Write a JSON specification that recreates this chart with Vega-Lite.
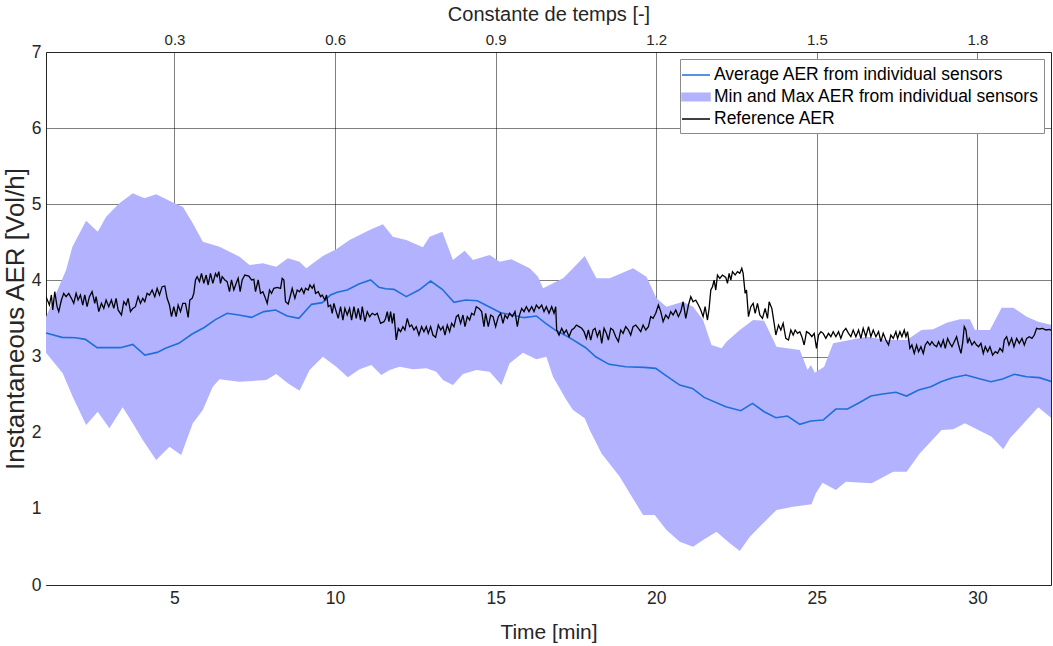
{
"$schema": "https://vega.github.io/schema/vega-lite/v6.json",
"width": 1005, "height": 533,
"autosize": {"type": "none"},
"padding": {"left": 46, "top": 52, "right": 2, "bottom": 61},
"background": "white",
"config": {
  "view": {"stroke": null},
  "font": "Liberation Sans",
  "axis": {"labelFont": "Liberation Sans", "labelFontSize": 17.5, "labelColor": "#262626", "titleFont": "Liberation Sans", "titleFontSize": 21, "titleFontWeight": "normal", "titleColor": "#262626", "domainColor": "#262626", "domainWidth": 1, "ticks": false, "gridColor": "#000000", "gridOpacity": 0.5, "gridWidth": 1, "zindex": 1},
  "legend": {"labelFont": "Liberation Sans", "labelFontSize": 17.5, "labelColor": "#000000", "labelLimit": 500}
},
"datasets": {
"upper": [{"t":1.0,"v":3.52},{"t":1.626,"v":4.137},{"t":1.822,"v":4.443},{"t":2.249,"v":4.785},{"t":2.611,"v":4.64},{"t":2.872,"v":4.837},{"t":3.287,"v":5.013},{"t":3.701,"v":5.144},{"t":4.065,"v":5.079},{"t":4.43,"v":5.131},{"t":5.0,"v":5.013},{"t":5.259,"v":4.968},{"t":5.57,"v":4.75},{"t":5.882,"v":4.509},{"t":6.402,"v":4.443},{"t":7.025,"v":4.312},{"t":7.336,"v":4.203},{"t":7.751,"v":4.225},{"t":8.168,"v":4.18},{"t":8.53,"v":4.291},{"t":8.894,"v":4.246},{"t":9.103,"v":4.159},{"t":9.62,"v":4.321},{"t":10.037,"v":4.409},{"t":10.452,"v":4.531},{"t":11.075,"v":4.662},{"t":11.489,"v":4.737},{"t":11.801,"v":4.574},{"t":12.218,"v":4.531},{"t":12.735,"v":4.435},{"t":12.944,"v":4.574},{"t":13.34,"v":4.64},{"t":13.67,"v":4.268},{"t":14.034,"v":4.391},{"t":14.293,"v":4.268},{"t":14.813,"v":4.334},{"t":15.125,"v":4.246},{"t":15.489,"v":4.278},{"t":16.059,"v":4.159},{"t":16.318,"v":4.049},{"t":16.474,"v":3.897},{"t":16.682,"v":3.94},{"t":17.097,"v":4.028},{"t":17.408,"v":4.159},{"t":17.773,"v":4.321},{"t":18.137,"v":4.028},{"t":18.551,"v":4.028},{"t":19.277,"v":4.159},{"t":19.695,"v":4.049},{"t":20.006,"v":3.765},{"t":20.318,"v":3.655},{"t":20.835,"v":3.721},{"t":21.146,"v":3.655},{"t":21.458,"v":3.48},{"t":21.72,"v":3.152},{"t":22.031,"v":3.109},{"t":22.187,"v":3.195},{"t":22.601,"v":3.349},{"t":23.016,"v":3.48},{"t":23.358,"v":3.471},{"t":23.744,"v":3.13},{"t":24.47,"v":3.086},{"t":24.71,"v":2.824},{"t":24.813,"v":2.889},{"t":24.938,"v":2.788},{"t":25.227,"v":2.867},{"t":25.508,"v":3.174},{"t":26.028,"v":3.218},{"t":26.548,"v":3.261},{"t":27.171,"v":3.218},{"t":27.794,"v":3.218},{"t":28.262,"v":3.349},{"t":28.623,"v":3.358},{"t":29.04,"v":3.445},{"t":29.455,"v":3.49},{"t":29.766,"v":3.49},{"t":29.922,"v":3.349},{"t":30.389,"v":3.349},{"t":30.754,"v":3.642},{"t":31.115,"v":3.642},{"t":31.533,"v":3.524},{"t":31.894,"v":3.458},{"t":32.311,"v":3.415}],
"lower": [{"t":1.0,"v":3.05},{"t":1.52,"v":2.78},{"t":1.832,"v":2.473},{"t":2.249,"v":2.101},{"t":2.611,"v":2.276},{"t":2.975,"v":2.058},{"t":3.389,"v":2.334},{"t":3.701,"v":2.124},{"t":4.012,"v":1.904},{"t":4.43,"v":1.642},{"t":4.844,"v":1.816},{"t":5.209,"v":1.707},{"t":5.57,"v":2.124},{"t":5.882,"v":2.298},{"t":6.193,"v":2.604},{"t":6.402,"v":2.702},{"t":7.025,"v":2.67},{"t":7.857,"v":2.692},{"t":8.168,"v":2.771},{"t":8.53,"v":2.649},{"t":8.894,"v":2.552},{"t":9.206,"v":2.824},{"t":9.62,"v":2.998},{"t":10.037,"v":2.867},{"t":10.399,"v":2.728},{"t":10.763,"v":2.833},{"t":11.128,"v":2.889},{"t":11.439,"v":2.758},{"t":11.698,"v":2.824},{"t":12.009,"v":2.867},{"t":12.424,"v":2.833},{"t":12.841,"v":2.846},{"t":13.153,"v":2.801},{"t":13.358,"v":2.692},{"t":13.67,"v":2.627},{"t":13.981,"v":2.771},{"t":14.399,"v":2.824},{"t":14.813,"v":2.801},{"t":15.178,"v":2.627},{"t":15.436,"v":2.912},{"t":15.85,"v":3.051},{"t":16.268,"v":2.964},{"t":16.579,"v":2.998},{"t":16.785,"v":2.736},{"t":17.202,"v":2.43},{"t":17.408,"v":2.298},{"t":17.773,"v":2.189},{"t":17.928,"v":2.036},{"t":18.293,"v":1.73},{"t":18.863,"v":1.422},{"t":19.174,"v":1.204},{"t":19.589,"v":0.919},{"t":19.953,"v":0.919},{"t":20.318,"v":0.722},{"t":20.732,"v":0.569},{"t":21.146,"v":0.503},{"t":21.458,"v":0.591},{"t":21.875,"v":0.7},{"t":22.29,"v":0.548},{"t":22.601,"v":0.447},{"t":22.913,"v":0.634},{"t":23.327,"v":0.81},{"t":23.744,"v":0.985},{"t":24.262,"v":1.028},{"t":24.835,"v":1.06},{"t":24.969,"v":1.204},{"t":25.178,"v":1.344},{"t":25.592,"v":1.248},{"t":25.903,"v":1.357},{"t":26.704,"v":1.336},{"t":27.377,"v":1.488},{"t":27.794,"v":1.488},{"t":28.209,"v":1.73},{"t":28.885,"v":2.036},{"t":29.246,"v":2.045},{"t":29.611,"v":2.124},{"t":30.442,"v":1.948},{"t":30.804,"v":1.782},{"t":31.012,"v":1.927},{"t":31.533,"v":2.167},{"t":31.894,"v":2.334},{"t":32.311,"v":2.189}],
"avg": [{"t":1.0,"v":3.31},{"t":1.5,"v":3.252},{"t":1.916,"v":3.248},{"t":2.227,"v":3.226},{"t":2.591,"v":3.117},{"t":3.318,"v":3.117},{"t":3.702,"v":3.16},{"t":4.076,"v":3.02},{"t":4.46,"v":3.055},{"t":4.72,"v":3.108},{"t":5.135,"v":3.174},{"t":5.55,"v":3.296},{"t":5.914,"v":3.379},{"t":6.277,"v":3.485},{"t":6.64,"v":3.568},{"t":7.004,"v":3.546},{"t":7.399,"v":3.515},{"t":7.783,"v":3.59},{"t":8.146,"v":3.612},{"t":8.51,"v":3.533},{"t":8.873,"v":3.502},{"t":9.268,"v":3.686},{"t":9.6,"v":3.708},{"t":9.86,"v":3.809},{"t":10.067,"v":3.844},{"t":10.379,"v":3.874},{"t":10.742,"v":3.953},{"t":11.106,"v":4.006},{"t":11.365,"v":3.909},{"t":11.573,"v":3.89},{"t":11.833,"v":3.883},{"t":12.217,"v":3.787},{"t":12.611,"v":3.874},{"t":12.975,"v":3.992},{"t":13.338,"v":3.883},{"t":13.702,"v":3.712},{"t":14.065,"v":3.743},{"t":14.429,"v":3.734},{"t":14.792,"v":3.655},{"t":15.156,"v":3.576},{"t":15.519,"v":3.546},{"t":15.883,"v":3.511},{"t":16.267,"v":3.533},{"t":16.557,"v":3.436},{"t":16.869,"v":3.345},{"t":17.284,"v":3.252},{"t":17.803,"v":3.116},{"t":18.115,"v":2.998},{"t":18.53,"v":2.898},{"t":19.05,"v":2.867},{"t":19.621,"v":2.858},{"t":19.984,"v":2.845},{"t":20.348,"v":2.736},{"t":20.732,"v":2.626},{"t":21.127,"v":2.582},{"t":21.49,"v":2.464},{"t":22.165,"v":2.342},{"t":22.632,"v":2.289},{"t":22.996,"v":2.385},{"t":23.359,"v":2.276},{"t":23.723,"v":2.197},{"t":24.086,"v":2.219},{"t":24.47,"v":2.11},{"t":24.813,"v":2.153},{"t":25.197,"v":2.166},{"t":25.592,"v":2.311},{"t":25.955,"v":2.311},{"t":26.319,"v":2.394},{"t":26.682,"v":2.482},{"t":27.046,"v":2.508},{"t":27.461,"v":2.532},{"t":27.793,"v":2.482},{"t":28.167,"v":2.561},{"t":28.551,"v":2.604},{"t":28.863,"v":2.67},{"t":29.226,"v":2.723},{"t":29.642,"v":2.758},{"t":30.005,"v":2.714},{"t":30.42,"v":2.67},{"t":30.784,"v":2.705},{"t":31.148,"v":2.767},{"t":31.532,"v":2.736},{"t":31.926,"v":2.723},{"t":32.321,"v":2.67}],
"ref": [{"t":1.0,"v":3.787},{"t":1.106,"v":3.677},{"t":1.168,"v":3.809},{"t":1.21,"v":3.612},{"t":1.272,"v":3.852},{"t":1.345,"v":3.655},{"t":1.397,"v":3.59},{"t":1.48,"v":3.743},{"t":1.552,"v":3.83},{"t":1.625,"v":3.787},{"t":1.708,"v":3.83},{"t":1.791,"v":3.765},{"t":1.864,"v":3.699},{"t":1.937,"v":3.83},{"t":1.999,"v":3.743},{"t":2.072,"v":3.809},{"t":2.144,"v":3.677},{"t":2.207,"v":3.809},{"t":2.279,"v":3.655},{"t":2.352,"v":3.787},{"t":2.435,"v":3.852},{"t":2.518,"v":3.699},{"t":2.56,"v":3.787},{"t":2.643,"v":3.59},{"t":2.726,"v":3.699},{"t":2.799,"v":3.633},{"t":2.871,"v":3.743},{"t":2.954,"v":3.655},{"t":3.037,"v":3.743},{"t":3.11,"v":3.633},{"t":3.183,"v":3.765},{"t":3.245,"v":3.612},{"t":3.349,"v":3.546},{"t":3.422,"v":3.721},{"t":3.494,"v":3.677},{"t":3.557,"v":3.765},{"t":3.629,"v":3.59},{"t":3.702,"v":3.633},{"t":3.785,"v":3.655},{"t":3.868,"v":3.787},{"t":3.941,"v":3.699},{"t":4.013,"v":3.765},{"t":4.076,"v":3.721},{"t":4.148,"v":3.83},{"t":4.221,"v":3.809},{"t":4.304,"v":3.874},{"t":4.387,"v":3.787},{"t":4.46,"v":3.896},{"t":4.533,"v":3.809},{"t":4.616,"v":3.918},{"t":4.699,"v":3.927},{"t":4.771,"v":3.765},{"t":4.844,"v":3.677},{"t":4.907,"v":3.524},{"t":4.979,"v":3.655},{"t":5.052,"v":3.524},{"t":5.114,"v":3.677},{"t":5.187,"v":3.59},{"t":5.26,"v":3.699},{"t":5.343,"v":3.699},{"t":5.426,"v":3.515},{"t":5.478,"v":3.743},{"t":5.55,"v":3.765},{"t":5.602,"v":3.83},{"t":5.654,"v":4.006},{"t":5.706,"v":4.049},{"t":5.779,"v":3.984},{"t":5.841,"v":4.093},{"t":5.914,"v":3.962},{"t":5.986,"v":4.071},{"t":6.049,"v":3.94},{"t":6.121,"v":4.093},{"t":6.194,"v":3.962},{"t":6.277,"v":4.09},{"t":6.329,"v":4.049},{"t":6.381,"v":4.115},{"t":6.433,"v":3.962},{"t":6.485,"v":4.049},{"t":6.568,"v":4.006},{"t":6.64,"v":3.984},{"t":6.713,"v":3.852},{"t":6.775,"v":4.006},{"t":6.848,"v":3.874},{"t":6.921,"v":3.962},{"t":6.983,"v":4.028},{"t":7.045,"v":3.852},{"t":7.108,"v":4.006},{"t":7.191,"v":4.071},{"t":7.315,"v":4.058},{"t":7.399,"v":4.006},{"t":7.471,"v":4.014},{"t":7.523,"v":3.852},{"t":7.606,"v":4.006},{"t":7.679,"v":3.83},{"t":7.752,"v":3.852},{"t":7.814,"v":3.787},{"t":7.887,"v":3.699},{"t":7.959,"v":3.874},{"t":8.022,"v":3.83},{"t":8.094,"v":3.896},{"t":8.198,"v":3.909},{"t":8.302,"v":3.896},{"t":8.354,"v":4.028},{"t":8.406,"v":4.006},{"t":8.458,"v":3.721},{"t":8.541,"v":3.69},{"t":8.614,"v":3.809},{"t":8.665,"v":3.896},{"t":8.749,"v":3.765},{"t":8.821,"v":3.874},{"t":8.894,"v":3.852},{"t":8.956,"v":3.896},{"t":9.029,"v":3.83},{"t":9.081,"v":3.896},{"t":9.164,"v":3.874},{"t":9.216,"v":3.94},{"t":9.288,"v":3.896},{"t":9.34,"v":3.94},{"t":9.392,"v":3.83},{"t":9.475,"v":3.852},{"t":9.548,"v":3.787},{"t":9.6,"v":3.809},{"t":9.683,"v":3.743},{"t":9.735,"v":3.809},{"t":9.787,"v":3.655},{"t":9.86,"v":3.677},{"t":9.911,"v":3.568},{"t":9.963,"v":3.699},{"t":10.036,"v":3.59},{"t":10.098,"v":3.502},{"t":10.171,"v":3.655},{"t":10.244,"v":3.48},{"t":10.306,"v":3.633},{"t":10.379,"v":3.546},{"t":10.452,"v":3.633},{"t":10.514,"v":3.48},{"t":10.587,"v":3.655},{"t":10.659,"v":3.502},{"t":10.721,"v":3.633},{"t":10.794,"v":3.48},{"t":10.846,"v":3.655},{"t":10.929,"v":3.458},{"t":11.002,"v":3.59},{"t":11.075,"v":3.524},{"t":11.158,"v":3.568},{"t":11.241,"v":3.546},{"t":11.313,"v":3.568},{"t":11.417,"v":3.436},{"t":11.521,"v":3.458},{"t":11.573,"v":3.5},{"t":11.625,"v":3.59},{"t":11.677,"v":3.458},{"t":11.729,"v":3.59},{"t":11.781,"v":3.436},{"t":11.833,"v":3.568},{"t":11.905,"v":3.218},{"t":11.968,"v":3.371},{"t":12.04,"v":3.327},{"t":12.113,"v":3.393},{"t":12.175,"v":3.349},{"t":12.248,"v":3.502},{"t":12.321,"v":3.393},{"t":12.383,"v":3.414},{"t":12.456,"v":3.349},{"t":12.528,"v":3.393},{"t":12.611,"v":3.283},{"t":12.695,"v":3.393},{"t":12.767,"v":3.327},{"t":12.84,"v":3.393},{"t":12.902,"v":3.305},{"t":12.975,"v":3.393},{"t":13.047,"v":3.283},{"t":13.131,"v":3.253},{"t":13.214,"v":3.414},{"t":13.287,"v":3.349},{"t":13.359,"v":3.393},{"t":13.421,"v":3.283},{"t":13.494,"v":3.414},{"t":13.567,"v":3.327},{"t":13.629,"v":3.436},{"t":13.702,"v":3.393},{"t":13.775,"v":3.524},{"t":13.837,"v":3.546},{"t":13.909,"v":3.436},{"t":13.982,"v":3.546},{"t":14.045,"v":3.393},{"t":14.117,"v":3.524},{"t":14.19,"v":3.48},{"t":14.252,"v":3.568},{"t":14.325,"v":3.546},{"t":14.397,"v":3.655},{"t":14.481,"v":3.633},{"t":14.564,"v":3.59},{"t":14.636,"v":3.393},{"t":14.688,"v":3.568},{"t":14.771,"v":3.393},{"t":14.844,"v":3.546},{"t":14.917,"v":3.524},{"t":14.999,"v":3.393},{"t":15.083,"v":3.524},{"t":15.156,"v":3.568},{"t":15.228,"v":3.436},{"t":15.291,"v":3.546},{"t":15.363,"v":3.502},{"t":15.436,"v":3.568},{"t":15.519,"v":3.524},{"t":15.602,"v":3.59},{"t":15.675,"v":3.393},{"t":15.727,"v":3.524},{"t":15.81,"v":3.633},{"t":15.883,"v":3.59},{"t":15.955,"v":3.655},{"t":16.038,"v":3.59},{"t":16.121,"v":3.655},{"t":16.194,"v":3.59},{"t":16.267,"v":3.677},{"t":16.35,"v":3.633},{"t":16.433,"v":3.677},{"t":16.505,"v":3.59},{"t":16.578,"v":3.655},{"t":16.661,"v":3.568},{"t":16.744,"v":3.655},{"t":16.817,"v":3.568},{"t":16.869,"v":3.655},{"t":16.9,"v":3.349},{"t":16.973,"v":3.283},{"t":17.056,"v":3.371},{"t":17.129,"v":3.305},{"t":17.201,"v":3.349},{"t":17.284,"v":3.261},{"t":17.367,"v":3.349},{"t":17.44,"v":3.371},{"t":17.513,"v":3.414},{"t":17.596,"v":3.393},{"t":17.679,"v":3.371},{"t":17.752,"v":3.327},{"t":17.824,"v":3.239},{"t":17.887,"v":3.349},{"t":17.959,"v":3.217},{"t":18.032,"v":3.349},{"t":18.094,"v":3.371},{"t":18.167,"v":3.261},{"t":18.24,"v":3.349},{"t":18.302,"v":3.174},{"t":18.375,"v":3.371},{"t":18.447,"v":3.305},{"t":18.51,"v":3.217},{"t":18.582,"v":3.371},{"t":18.655,"v":3.349},{"t":18.738,"v":3.261},{"t":18.821,"v":3.196},{"t":18.894,"v":3.349},{"t":18.967,"v":3.305},{"t":19.05,"v":3.393},{"t":19.133,"v":3.349},{"t":19.205,"v":3.283},{"t":19.278,"v":3.393},{"t":19.361,"v":3.414},{"t":19.444,"v":3.371},{"t":19.517,"v":3.327},{"t":19.59,"v":3.414},{"t":19.673,"v":3.349},{"t":19.756,"v":3.393},{"t":19.828,"v":3.524},{"t":19.901,"v":3.502},{"t":19.984,"v":3.568},{"t":20.067,"v":3.677},{"t":20.14,"v":3.59},{"t":20.213,"v":3.458},{"t":20.296,"v":3.546},{"t":20.379,"v":3.502},{"t":20.451,"v":3.59},{"t":20.524,"v":3.546},{"t":20.607,"v":3.611},{"t":20.69,"v":3.524},{"t":20.763,"v":3.59},{"t":20.836,"v":3.72},{"t":20.919,"v":3.502},{"t":21.002,"v":3.677},{"t":21.075,"v":3.786},{"t":21.147,"v":3.72},{"t":21.23,"v":3.742},{"t":21.313,"v":3.677},{"t":21.386,"v":3.611},{"t":21.459,"v":3.524},{"t":21.521,"v":3.655},{"t":21.594,"v":3.48},{"t":21.646,"v":3.633},{"t":21.698,"v":3.874},{"t":21.75,"v":3.918},{"t":21.802,"v":4.005},{"t":21.853,"v":3.874},{"t":21.905,"v":4.071},{"t":21.978,"v":4.027},{"t":22.061,"v":4.071},{"t":22.165,"v":4.04},{"t":22.217,"v":3.962},{"t":22.269,"v":4.093},{"t":22.321,"v":4.005},{"t":22.373,"v":4.115},{"t":22.456,"v":4.071},{"t":22.528,"v":4.115},{"t":22.601,"v":4.093},{"t":22.663,"v":4.159},{"t":22.705,"v":4.093},{"t":22.767,"v":3.83},{"t":22.809,"v":3.874},{"t":22.871,"v":3.524},{"t":22.944,"v":3.655},{"t":23.017,"v":3.699},{"t":23.079,"v":3.568},{"t":23.152,"v":3.699},{"t":23.224,"v":3.546},{"t":23.307,"v":3.502},{"t":23.39,"v":3.633},{"t":23.463,"v":3.502},{"t":23.515,"v":3.72},{"t":23.598,"v":3.633},{"t":23.671,"v":3.436},{"t":23.723,"v":3.283},{"t":23.806,"v":3.414},{"t":23.878,"v":3.349},{"t":23.951,"v":3.436},{"t":24.034,"v":3.239},{"t":24.117,"v":3.217},{"t":24.19,"v":3.349},{"t":24.263,"v":3.283},{"t":24.325,"v":3.349},{"t":24.398,"v":3.305},{"t":24.47,"v":3.327},{"t":24.533,"v":3.261},{"t":24.605,"v":3.152},{"t":24.678,"v":3.327},{"t":24.761,"v":3.305},{"t":24.844,"v":3.261},{"t":24.917,"v":3.305},{"t":24.989,"v":3.108},{"t":25.052,"v":3.283},{"t":25.125,"v":3.327},{"t":25.197,"v":3.305},{"t":25.28,"v":3.239},{"t":25.363,"v":3.305},{"t":25.436,"v":3.261},{"t":25.509,"v":3.327},{"t":25.592,"v":3.261},{"t":25.675,"v":3.327},{"t":25.747,"v":3.239},{"t":25.82,"v":3.327},{"t":25.903,"v":3.371},{"t":25.986,"v":3.305},{"t":26.059,"v":3.261},{"t":26.132,"v":3.349},{"t":26.215,"v":3.261},{"t":26.298,"v":3.349},{"t":26.371,"v":3.239},{"t":26.443,"v":3.371},{"t":26.526,"v":3.261},{"t":26.609,"v":3.393},{"t":26.682,"v":3.261},{"t":26.755,"v":3.349},{"t":26.838,"v":3.261},{"t":26.921,"v":3.327},{"t":26.994,"v":3.196},{"t":27.066,"v":3.305},{"t":27.149,"v":3.217},{"t":27.232,"v":3.152},{"t":27.305,"v":3.283},{"t":27.378,"v":3.239},{"t":27.461,"v":3.327},{"t":27.513,"v":3.239},{"t":27.586,"v":3.327},{"t":27.648,"v":3.261},{"t":27.721,"v":3.349},{"t":27.773,"v":3.261},{"t":27.824,"v":3.327},{"t":27.897,"v":3.108},{"t":27.959,"v":3.152},{"t":28.032,"v":3.042},{"t":28.105,"v":3.152},{"t":28.167,"v":3.064},{"t":28.24,"v":3.13},{"t":28.313,"v":3.042},{"t":28.375,"v":3.152},{"t":28.447,"v":3.196},{"t":28.52,"v":3.152},{"t":28.582,"v":3.196},{"t":28.655,"v":3.152},{"t":28.728,"v":3.13},{"t":28.79,"v":3.196},{"t":28.863,"v":3.13},{"t":28.936,"v":3.217},{"t":28.998,"v":3.108},{"t":29.071,"v":3.239},{"t":29.143,"v":3.174},{"t":29.206,"v":3.13},{"t":29.278,"v":3.196},{"t":29.351,"v":3.261},{"t":29.413,"v":3.152},{"t":29.486,"v":3.042},{"t":29.538,"v":3.174},{"t":29.59,"v":3.393},{"t":29.642,"v":3.349},{"t":29.694,"v":3.174},{"t":29.745,"v":3.239},{"t":29.829,"v":3.152},{"t":29.901,"v":3.196},{"t":29.974,"v":3.152},{"t":30.036,"v":3.13},{"t":30.109,"v":3.174},{"t":30.182,"v":3.042},{"t":30.244,"v":3.13},{"t":30.317,"v":3.064},{"t":30.389,"v":3.13},{"t":30.472,"v":3.02},{"t":30.555,"v":3.064},{"t":30.628,"v":3.042},{"t":30.701,"v":3.108},{"t":30.784,"v":3.064},{"t":30.836,"v":3.217},{"t":30.909,"v":3.261},{"t":30.981,"v":3.152},{"t":31.064,"v":3.239},{"t":31.137,"v":3.13},{"t":31.22,"v":3.239},{"t":31.303,"v":3.174},{"t":31.386,"v":3.239},{"t":31.459,"v":3.152},{"t":31.532,"v":3.239},{"t":31.615,"v":3.261},{"t":31.698,"v":3.239},{"t":31.771,"v":3.283},{"t":31.843,"v":3.371},{"t":31.926,"v":3.362},{"t":32.03,"v":3.371},{"t":32.134,"v":3.349},{"t":32.238,"v":3.357},{"t":32.321,"v":3.34}]
},
"resolve": {"axis": {"x": "independent", "y": "independent"}},
"layer": [
  {
    "data": {"name": "upper"},
    "mark": {"type": "area", "clip": true, "opacity": 1},
    "encoding": {
      "x": {"field": "t", "type": "quantitative", "scale": {"domain": [1, 32.29], "nice": false, "zero": false},
            "axis": {"orient": "bottom", "title": "Time [min]", "values": [5, 10, 15, 20, 25, 30], "grid": true, "labelPadding": 4, "titlePadding": 15}},
      "y": {"field": "v", "type": "quantitative", "scale": {"domain": [0, 7], "nice": false, "zero": true},
            "axis": {"orient": "left", "title": "Instantaneous AER [Vol/h]", "titleFontSize": 26, "values": [0, 1, 2, 3, 4, 5, 6, 7], "grid": true, "labelPadding": 5, "titlePadding": 3}},
      "color": {"datum": "Min and Max AER from individual sensors", "type": "nominal",
        "scale": {"domain": ["Average AER from individual sensors", "Min and Max AER from individual sensors", "Reference AER"], "range": ["#1f6fd8", "#b2b2ff", "#000000"]},
        "legend": {"title": null, "orient": "none", "legendX": 634, "legendY": 7, "padding": 5, "fillColor": "white", "strokeColor": "#8c8c8c", "symbolSize": 400, "labelOffset": 7, "rowPadding": 2,
          "encoding": {"symbols": {
            "shape": {"value": {"expr": "datum.value === 'Min and Max AER from individual sensors' ? 'M-1.4,-0.38H1.4V0.38H-1.4Z' : 'M-1.4,0H1.4'"}},
            "fill": {"value": {"expr": "datum.value === 'Min and Max AER from individual sensors' ? '#b2b2ff' : 'transparent'"}},
            "stroke": {"value": {"expr": "datum.value === 'Min and Max AER from individual sensors' ? 'transparent' : (datum.value === 'Reference AER' ? '#000000' : '#2a86d8')"}},
            "strokeWidth": {"value": 1.5},
            "opacity": {"value": 1},
            "fillOpacity": {"value": 1},
            "strokeOpacity": {"value": 1}
          }}}
      }
    }
  },
  {
    "data": {"name": "lower"},
    "mark": {"type": "area", "clip": true, "color": "white", "opacity": 1},
    "encoding": {
      "x": {"field": "t", "type": "quantitative", "axis": null},
      "y": {"field": "v", "type": "quantitative", "axis": null}
    }
  },
  {
    "data": {"name": "avg"},
    "mark": {"type": "line", "clip": true, "strokeWidth": 1.6},
    "encoding": {
      "x": {"field": "t", "type": "quantitative",
            "axis": {"orient": "top", "title": "Constante de temps [-]", "values": [5, 10, 15, 20, 25, 30], "labelExpr": "format(datum.value * 0.06, '.1f')", "grid": false, "labelFontSize": 15, "titleFontSize": 20, "labelPadding": 5, "titlePadding": 8}},
      "y": {"field": "v", "type": "quantitative",
            "axis": {"orient": "right", "title": null, "labels": false, "grid": false, "values": []}},
      "color": {"datum": "Average AER from individual sensors", "type": "nominal"}
    }
  },
  {
    "data": {"name": "ref"},
    "mark": {"type": "line", "clip": true, "strokeWidth": 1.3},
    "encoding": {
      "x": {"field": "t", "type": "quantitative", "axis": null},
      "y": {"field": "v", "type": "quantitative", "axis": null},
      "color": {"datum": "Reference AER", "type": "nominal"}
    }
  }
]
}
